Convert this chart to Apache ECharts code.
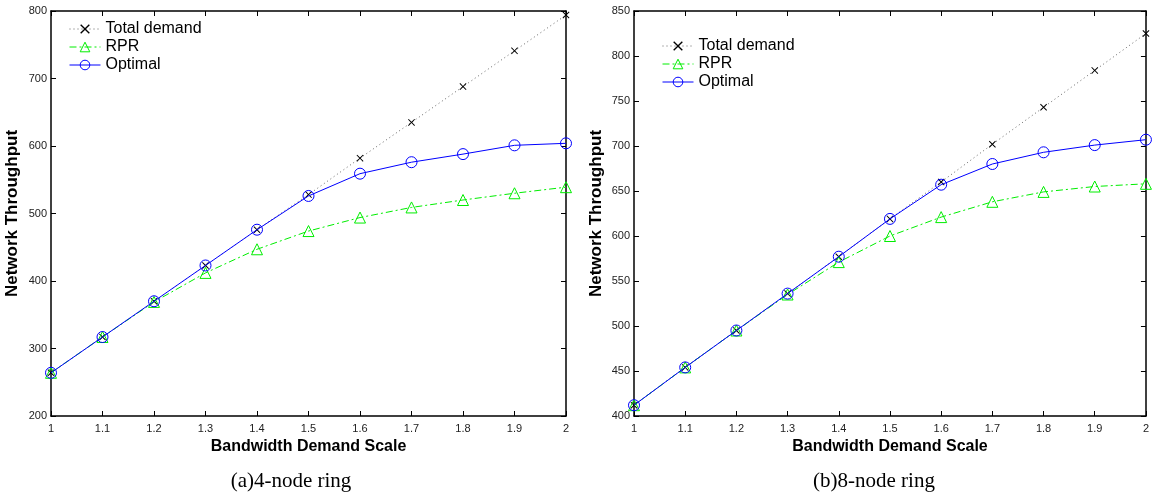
<!DOCTYPE html>
<html><head><meta charset="utf-8">
<script src="https://cdn.jsdelivr.net/npm/echarts@6/dist/echarts.min.js"></script>
<style>html,body{margin:0;padding:0;background:#fff}#c{width:1152px;height:495px}</style>
</head><body><div id="c"></div>
<script>
const scales = [1, 1.1, 1.2, 1.3, 1.4, 1.5, 1.6, 1.7, 1.8, 1.9, 2];
// (a) 4-node ring
const totalA   = [264, 317, 370, 423, 476, 528, 582, 635, 688, 741, 794];
const rprA     = [264, 317, 369, 412, 447, 474, 494, 509, 520, 530, 539];
const optimalA = [264, 317, 370, 423, 476, 526, 559, 576, 588, 601, 604];
// (b) 8-node ring
const totalB   = [412, 454, 495, 536, 577, 619, 660, 702, 743, 784, 825];
const rprB     = [412, 454, 495, 535, 571, 600, 621, 638, 649, 655, 658];
const optimalB = [412, 454, 495, 536, 577, 619, 657, 680, 693, 701, 707];
const seriesNames = ['Total demand', 'RPR', 'Optimal'];
const captions = ['(a)4-node ring', '(b)8-node ring'];
const xName = 'Bandwidth Demand Scale';
const yName = 'Network Throughput';

const FONT = 'Liberation Sans';
const crossPath = 'path://M0,1 L1,0 L5,4 L9,0 L10,1 L6,5 L10,9 L9,10 L5,6 L1,10 L0,9 L4,5 Z';
const toPts = v => scales.map((x, i) => [x, v[i]]);

function mkSeries(g, vals) {
  return [
    { name: seriesNames[0], type: 'line', xAxisIndex: g, yAxisIndex: g, data: toPts(vals[0]),
      symbol: crossPath, symbolSize: 7, itemStyle: { color: '#000' },
      lineStyle: { color: '#666', width: 1, type: [1, 3] }, z: 2 },
    { name: seriesNames[1], type: 'line', xAxisIndex: g, yAxisIndex: g, data: toPts(vals[1]),
      symbol: 'triangle', symbolSize: 11,
      itemStyle: { color: 'rgba(0,0,0,0)', borderColor: '#00ee00', borderWidth: 1 },
      lineStyle: { color: '#00ee00', width: 1, type: [7, 3, 2, 3] }, z: 3 },
    { name: seriesNames[2], type: 'line', xAxisIndex: g, yAxisIndex: g, data: toPts(vals[2]),
      symbol: 'circle', symbolSize: 11,
      itemStyle: { color: 'rgba(0,0,0,0)', borderColor: '#0000ff', borderWidth: 1 },
      lineStyle: { color: '#0000ff', width: 1, type: 'solid' }, z: 4 }
  ];
}

const lbl = { fontFamily: FONT, fontSize: 11, color: '#222' };
function xAx(g, top) {
  return { type: 'value', gridIndex: g, min: 1, max: 2, interval: 0.1, position: top ? 'top' : 'bottom',
    splitLine: { show: false },
    axisLine: { show: true, onZero: false, lineStyle: { color: '#000', width: 1.5 } },
    axisTick: { show: true, inside: true, length: 5, lineStyle: { color: '#000' } },
    axisLabel: top ? { show: false } : Object.assign({ margin: 7 }, lbl),
    name: top ? '' : xName, nameLocation: 'middle', nameGap: 18,
    nameTextStyle: { fontFamily: FONT, fontSize: 16, fontWeight: 'bold', color: '#000',
      verticalAlign: 'top' } };
}
function yAx(g, right, min, max, step, gap) {
  return { type: 'value', gridIndex: g, min, max, interval: step, position: right ? 'right' : 'left',
    splitLine: { show: false },
    axisLine: { show: true, onZero: false, lineStyle: { color: '#000', width: 1.5 } },
    axisTick: { show: true, inside: true, length: 5, lineStyle: { color: '#000' } },
    axisLabel: right ? { show: false } : Object.assign({ margin: 4 }, lbl),
    name: right ? '' : yName, nameLocation: 'middle', nameGap: gap,
    nameTextStyle: { fontFamily: FONT, fontSize: 17, fontWeight: 'bold', color: '#000' } };
}

const legendBase = { orient: 'vertical', itemWidth: 31, itemHeight: 12, itemGap: 2,
  lineStyle: { width: 1 }, itemStyle: { borderWidth: 1 },
  textStyle: { fontFamily: FONT, fontSize: 16, color: '#000' }, data: seriesNames };

const capStyle = { fontFamily: 'Liberation Serif', fontSize: 21, fontWeight: 'normal', color: '#000' };
const option = {
  animation: false,
  backgroundColor: '#fff',
  title: [
    { text: captions[0], left: 286, top: 466, textAlign: 'center', textStyle: capStyle },
    { text: captions[1], left: 869, top: 466, textAlign: 'center', textStyle: capStyle }
  ],
  legend: [
    Object.assign({ left: 64, top: 16 }, legendBase),
    Object.assign({ left: 657, top: 33 }, legendBase)
  ],
  grid: [
    { left: 51, right: 586, top: 11, bottom: 79 },
    { left: 634, right: 2, top: 11, bottom: 79 }
  ],
  xAxis: [xAx(0, false), xAx(1, false), xAx(0, true), xAx(1, true)],
  yAxis: [yAx(0, false, 200, 800, 100, 30), yAx(1, false, 400, 850, 50, 29),
          yAx(0, true, 200, 800, 100, 0), yAx(1, true, 400, 850, 50, 0)],
  series: [].concat(mkSeries(0, [totalA, rprA, optimalA]), mkSeries(1, [totalB, rprB, optimalB]))
};
echarts.init(document.getElementById('c'), null, { renderer: 'canvas' }).setOption(option);
</script></body></html>
